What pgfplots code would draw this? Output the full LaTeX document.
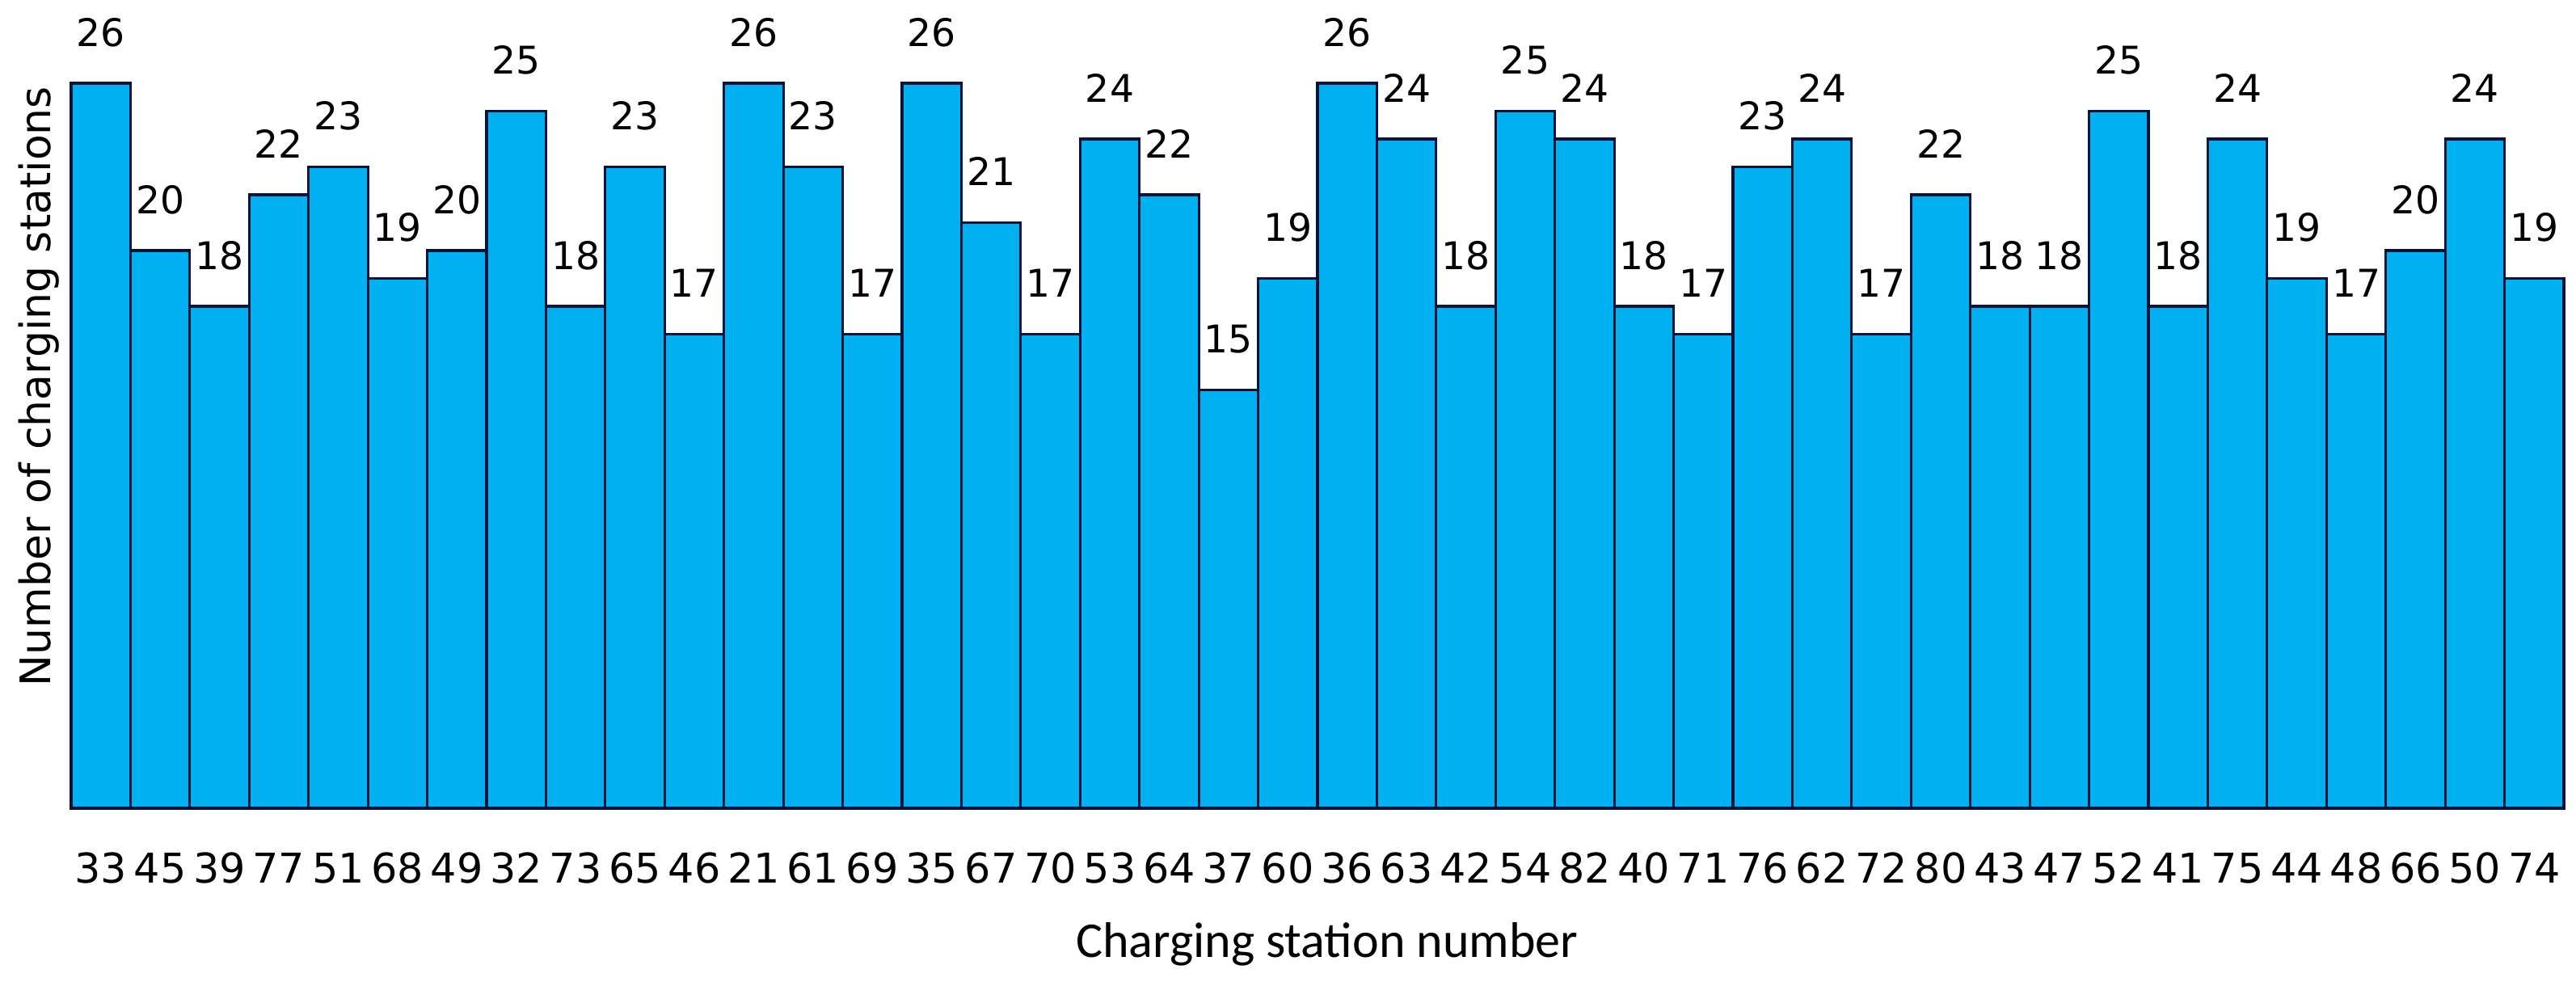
\documentclass[border=0pt]{standalone}
\usepackage{pgfplots}
\pgfplotsset{compat=1.18}
\usepackage{fontspec}
\setmainfont{Carlito}
\newfontfamily\dejavu{DejaVu Sans}
\definecolor{barfill}{RGB}{0,176,240}
\definecolor{baredge}{RGB}{5,20,55}
\begin{document}
\begin{tikzpicture}
\begin{axis}[
  scale only axis,
  width=771pt, height=241.5pt,
  xmin=-0.5, xmax=41.5, ymin=0, ymax=28,
  /pgf/number format/assume math mode=true,
  axis line style={draw=none},
  ytick=\empty,
  xtick=data,
  xticklabels={33,45,39,77,51,68,49,32,73,65,46,21,61,69,35,67,70,53,64,37,60,36,63,42,54,82,40,71,76,62,72,80,43,47,52,41,75,44,48,66,50,74},
  major tick length=0pt,
  xticklabel style={font=\dejavu\fontsize{12.7}{14}\selectfont, anchor=base, inner sep=0pt, yshift=-23pt},
  ybar, bar width=1,
  clip=false,
  nodes near coords,
  nodes near coords style={font=\dejavu\fontsize{11.8}{13}\selectfont, anchor=base, inner sep=0pt, yshift=11.5pt, text=black},
]
\addplot[fill=barfill, draw=baredge, line width=0.8pt] coordinates {
(0,26) (1,20) (2,18) (3,22) (4,23) (5,19) (6,20) (7,25) (8,18) (9,23)
(10,17) (11,26) (12,23) (13,17) (14,26) (15,21) (16,17) (17,24) (18,22) (19,15)
(20,19) (21,26) (22,24) (23,18) (24,25) (25,24) (26,18) (27,17) (28,23) (29,24)
(30,17) (31,22) (32,18) (33,18) (34,25) (35,18) (36,24) (37,19) (38,17) (39,20)
(40,24) (41,19)};
\coordinate (bl) at (axis description cs:0,0);
\coordinate (tr) at (axis description cs:1,0);
\node[font=\fontsize{15.5}{18}\selectfont, anchor=base, inner sep=0pt] at (axis cs:20.66,-5.36) {Charging station number};
\node[font=\dejavu\fontsize{13}{15}\selectfont, anchor=base, rotate=90, inner sep=0pt] at (axis cs:-0.854,15.13) {Number of charging stations};
\end{axis}
\pgfresetboundingbox
\path ([xshift=-22pt,yshift=-53.5pt]bl) rectangle ([xshift=3.75pt,yshift=250pt]tr);
\end{tikzpicture}
\end{document}
